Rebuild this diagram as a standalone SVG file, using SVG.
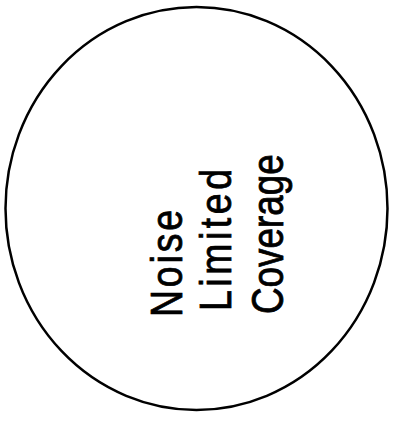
<svg xmlns="http://www.w3.org/2000/svg" width="394" height="421" viewBox="0 0 394 421">
<style>
.outline{fill:none;stroke:#000;stroke-width:2.5}
.lbl{font-family:"Liberation Sans",Arial,sans-serif;font-size:44px;fill:#000;stroke:#000;stroke-width:0.8}
</style>
<rect width="394" height="421" fill="#fff"/>
<g id="connectors"></g>
<g id="coverage">
<ellipse class="outline" cx="196.5" cy="208.5" rx="191" ry="201.5"/>
<text class="lbl" transform="translate(182,317) rotate(-90) scale(0.85,1)" x="0" y="0" textLength="126" lengthAdjust="spacing">Noise</text>
<text class="lbl" transform="translate(231,311) rotate(-90) scale(0.85,1)" x="0" y="0" textLength="167" lengthAdjust="spacing">Limited</text>
<text class="lbl" transform="translate(283,314) rotate(-90) scale(0.85,1)" x="0" y="0" textLength="188" lengthAdjust="spacingAndGlyphs">Coverage</text>
</g>
</svg>
